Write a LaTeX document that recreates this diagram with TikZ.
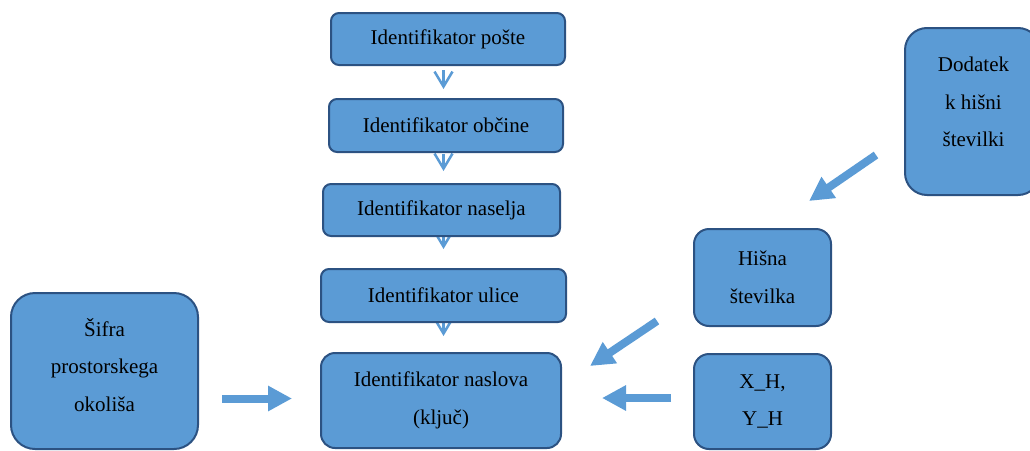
\documentclass[tikz,border=0pt]{standalone}
\usepackage{fontspec}
\setmainfont{Liberation Serif}
\usepackage{xcolor}
\usepackage{tikz}
\usetikzlibrary{positioning, calc, arrows.meta, backgrounds}
\definecolor{boxblue}{HTML}{5B9BD5}
\definecolor{boxedge}{HTML}{2C5282}

\begin{document}
\begin{tikzpicture}[x=1pt, y=-1pt,
    box/.style={draw=boxedge, line width=2pt, fill=boxblue, rounded corners=#1,
      align=center, inner sep=0pt, font=\fontsize{21}{37.5}\selectfont},
    box/.default=8pt,
    boxtext/.style={align=center, inner sep=0pt, font=\fontsize{21}{37.5}\selectfont},
    smallarr/.style={draw=boxblue, line width=2.5pt, -{Straight Barb[length=15pt,width=18pt]}},
    bigarr/.style={draw=boxblue, line width=8pt, -{Triangle[length=24pt,width=24pt]}}]
        \useasboundingbox (0,0) rectangle (1030,450);
        \clip (0,0) rectangle (1030,450);

        % middle column
        \node[box, minimum width=234pt, minimum height=52pt] (poste) at (448,39) {Identifikator pošte};
        \node[box, minimum width=234pt, minimum height=53pt] (obcine) at (446,125.5) {Identifikator občine};
        \node[box, minimum width=237pt, minimum height=52pt] (naselja) at (441.5,210) {Identifikator naselja};
        \node[box, minimum width=245pt, minimum height=53pt] (ulice) at (443.5,295.5) {Identifikator ulice};
        \node[box=14pt, minimum width=240pt, minimum height=95pt] (naslova) at (441,400.5) {Identifikator naslova\\(ključ)};

        % side boxes
        \node[box=24pt, minimum width=187pt, minimum height=156pt] (sifra) at (104.5,371) {};
        \node[boxtext] (sifratxt) at (104.5,365) {Šifra\\prostorskega\\okoliša};
        \node[box=22pt, minimum width=135pt, minimum height=167pt] (dodatek) at (972.5,111.5) {};
        \node[boxtext] (dodatektxt) at (973.5,102) {Dodatek\\k hišni\\številki};
        \node[box=15pt, minimum width=137pt, minimum height=97pt] (hisna) at (762.5,277.5) {Hišna\\številka};
        \node[box=15pt, minimum width=137pt, minimum height=95pt] (xh) at (762.5,401.5) {X\_H,\\Y\_H};

        \begin{scope}[on background layer]
          \foreach \a/\b/\s/\e in {poste/obcine/4/9, obcine/naselja/1/12, naselja/ulice/-4/19, ulice/naslova/-4/16} {
            \draw[smallarr] ($(\a.south -| ulice)+(0,\s)$) -- ($(\b.north -| ulice)+(0,-\e)$);
          }
        \end{scope}

        \draw[bigarr] ($(sifra.east |- naslova.west)+(23,-2)$) -- ($(naslova.west)+(-28,-2)$);
        \draw[bigarr] ($(xh.west)+(-22,-3.5)$) -- ($(naslova.east)+(40,-2.5)$);
        \draw[bigarr] ($(hisna.south west)+(-36,-6)$) -- ($(naslova.north east)+(28,14)$);
        \draw[bigarr] ($(dodatek.south west)+(-28,-41)$) -- ($(hisna.north east)+(-23,-27)$);
      \end{tikzpicture}
\end{document}
